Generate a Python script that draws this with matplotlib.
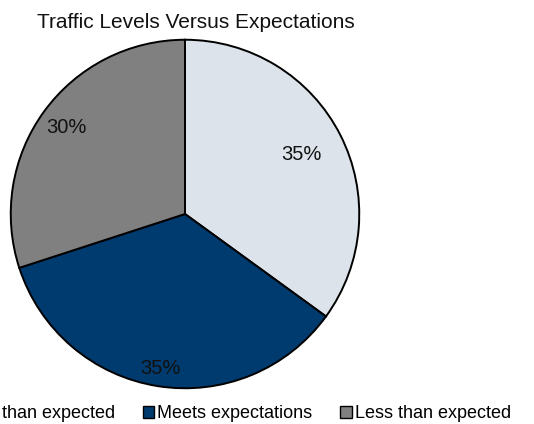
import matplotlib
matplotlib.use("Agg")
import matplotlib.pyplot as plt
import numpy as np

plt.rcParams['font.family'] = ['Liberation Sans', 'DejaVu Sans']

categories = ["More than expected", "Meets expectations", "Less than expected"]
shares = [35, 35, 30]
colors = ["#dce3ea", "#003b6f", "#808080"]
label_radius = [0.75, 0.90, 0.84]

W, H = 534, 424
fig = plt.figure(figsize=(W / 100, H / 100), dpi=100)
ax = fig.add_axes([9 / W, 34 / H, 352 / W, 352 / H])

wedges, texts, autotexts = ax.pie(
    shares, colors=colors, startangle=90, counterclock=False,
    autopct='%d%%', pctdistance=0.75,
    wedgeprops=dict(edgecolor='black', linewidth=1.4),
    textprops=dict(fontsize=14.5, color='#111111'),
)
for w, t, r in zip(wedges, autotexts, label_radius):
    ang = np.deg2rad((w.theta1 + w.theta2) / 2)
    t.set_position((r * np.cos(ang), r * np.sin(ang)))

ax.set_xlim(-1.01, 1.01)
ax.set_ylim(-1.01, 1.01)
ax.set_aspect('equal')
ax.axis('off')

fig.text(196 / W, 1 - 23 / H, "Traffic Levels Versus Expectations",
         ha='center', va='center', fontsize=15, color='#111111')

leg = fig.legend(wedges, categories, loc='center', bbox_to_anchor=(226 / W, 1 - 414 / H),
                 ncol=3, frameon=False, fontsize=13, handlelength=0.65, handleheight=0.65,
                 handletextpad=0.15, columnspacing=1.55, borderpad=0)
for h in leg.legend_handles:
    h.set_linewidth(1.0)

fig.savefig("out.png", dpi=100)
